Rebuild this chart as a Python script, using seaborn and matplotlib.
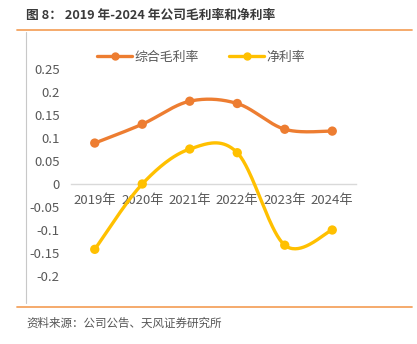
import numpy as np
import pandas as pd
import matplotlib
matplotlib.use("Agg")
import matplotlib.pyplot as plt
from matplotlib.lines import Line2D
import seaborn as sns

years = ["2019年", "2020年", "2021年", "2022年", "2023年", "2024年"]
gross_margin = [0.089, 0.130, 0.180, 0.175, 0.119, 0.115]
net_margin = [-0.142, 0.000, 0.076, 0.068, -0.133, -0.100]
series_names = ["综合毛利率", "净利率"]
y_ticks = [-0.2, -0.15, -0.1, -0.05, 0, 0.05, 0.1, 0.15, 0.2, 0.25]

ORANGE = "#ED7D31"
YELLOW = "#FFC000"
TEXT_GRAY = "#595959"

sns.set_style("white")
plt.rcParams["font.family"] = ["Noto Sans CJK SC", "DejaVu Sans"]


def smooth_curve(xs, ys, n=40):
    """Catmull-Rom style cubic Bezier through the points (spreadsheet-like smoothing)."""
    pts = np.column_stack([xs, ys]).astype(float)
    out = []
    for i in range(len(pts) - 1):
        p0 = pts[i - 1] if i > 0 else pts[i]
        p1 = pts[i]
        p2 = pts[i + 1]
        p3 = pts[i + 2] if i + 2 < len(pts) else pts[i + 1]
        c1 = p1 + (p2 - p0) / 6.0
        c2 = p2 - (p3 - p1) / 6.0
        t = np.linspace(0, 1, n)[:, None]
        seg = ((1 - t) ** 3) * p1 + 3 * ((1 - t) ** 2) * t * c1 + 3 * (1 - t) * t ** 2 * c2 + t ** 3 * p2
        out.append(seg if i == 0 else seg[1:])
    seg = np.vstack(out)
    return seg[:, 0], seg[:, 1]


df = pd.DataFrame({
    "year": years * 2,
    "x": list(range(len(years))) * 2,
    "value": gross_margin + net_margin,
    "series": [series_names[0]] * len(years) + [series_names[1]] * len(years),
})

W, H = 417, 344
fig = plt.figure(figsize=(W / 100, H / 100), dpi=100)

y_lo, y_hi = -0.22, 0.27
px_per_unit = 460.0
zero_px = 184.0
top_px = zero_px - y_hi * px_per_unit
bot_px = zero_px - y_lo * px_per_unit
left_px, right_px = 71.0, 356.0
ax = fig.add_axes([left_px / W, 1 - bot_px / H, (right_px - left_px) / W, (bot_px - top_px) / H])

palette = {series_names[0]: ORANGE, series_names[1]: YELLOW}
for name in series_names:
    sub = df[df["series"] == name]
    sx, sy = smooth_curve(sub["x"].values, sub["value"].values)
    ax.plot(sx, sy, color=palette[name], lw=2.4, solid_capstyle="round", zorder=3)
sns.scatterplot(data=df, x="x", y="value", hue="series", palette=palette,
                s=45, edgecolor="none", legend=False, ax=ax, zorder=4)

ax.set_xlim(-0.5, len(years) - 0.5)
ax.set_ylim(y_lo, y_hi)
ax.set_xlabel("")
ax.set_ylabel("")

# y axis: labels only
ax.set_yticks(y_ticks)
ax.set_yticklabels([f"{v:g}" for v in y_ticks])
ax.tick_params(axis="y", length=0, pad=8, labelsize=9.5, labelcolor=TEXT_GRAY)

# x axis sits at zero with boundary tick marks
for s in ["top", "right", "left"]:
    ax.spines[s].set_visible(False)
ax.spines["bottom"].set_position(("data", 0))
ax.spines["bottom"].set_color("#D9D9D9")
ax.spines["bottom"].set_linewidth(1.0)
ax.set_xticks(range(len(years)))
ax.set_xticklabels(years)
ax.set_xticks(np.arange(-0.5, len(years), 1.0), minor=True)
ax.tick_params(axis="x", which="major", length=0, pad=7.5, labelsize=9.5, labelcolor=TEXT_GRAY)
ax.tick_params(axis="x", which="minor", length=4, width=1.0, color="#D9D9D9", direction="out")
ax.grid(False)

# legend above the plot
handles = [Line2D([0], [0], color=palette[n], lw=2.4, marker="o", markersize=5) for n in series_names]
fig.legend(handles, series_names, loc="center", bbox_to_anchor=(201 / W, 1 - 57 / H),
           ncol=2, frameon=False, fontsize=9.3, labelcolor=TEXT_GRAY,
           handlelength=2.7, columnspacing=2.4, handletextpad=0.15)

# title, rules and source note
fig.text(26 / W, 1 - 15 / H, "图 8： 2019 年-2024 年公司毛利率和净利率", fontsize=9.2,
         fontweight="bold", color="#3A3A3A", ha="left", va="center")
fig.add_artist(Line2D([17 / W, 412 / W], [1 - 30 / H, 1 - 30 / H], color="#F4A460", lw=1.3))
fig.add_artist(Line2D([17 / W, 412 / W], [1 - 307 / H, 1 - 307 / H], color="#F4A460", lw=1.3))
fig.add_artist(Line2D([26 / W, 26 / W], [1 - 32 / H, 1 - 303 / H], color="#C8C8C8", lw=0.8))
fig.text(26 / W, 1 - 323 / H, "资料来源：公司公告、天风证券研究所", fontsize=8.3,
         color="#555555", ha="left", va="center")

fig.savefig("out.png", dpi=100)
